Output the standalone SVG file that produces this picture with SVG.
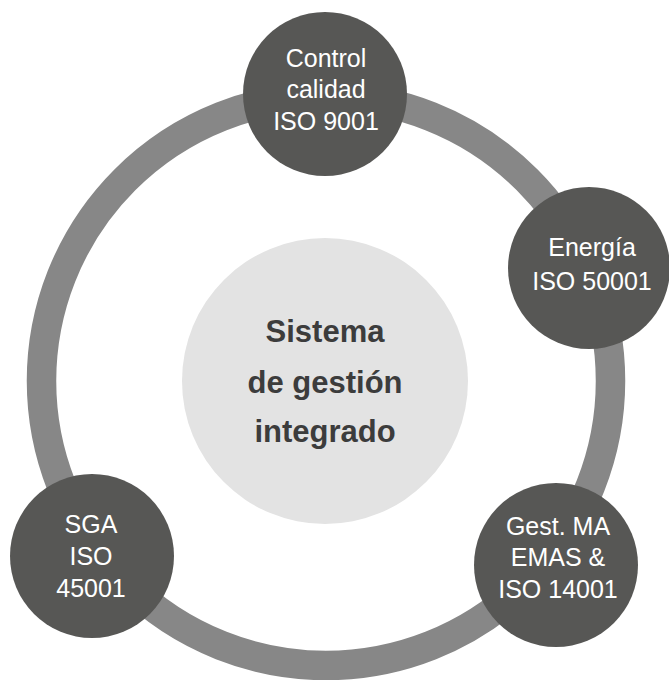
<svg xmlns="http://www.w3.org/2000/svg" width="669" height="680" viewBox="0 0 669 680">
<style>
.node{fill:#575755}
.lbl{font-family:"Liberation Sans",Arial,sans-serif;font-size:25px;fill:#ffffff;text-anchor:middle}
.ctr{font-family:"Liberation Sans",Arial,sans-serif;font-size:31px;font-weight:bold;fill:#3c3c3c;text-anchor:middle}
</style>
<rect width="669" height="680" fill="#ffffff"/>
<g id="connectors">
<circle cx="326" cy="381" r="284.5" fill="none" stroke="#878787" stroke-width="29.5"/>
</g>
<g id="center">
<circle cx="325" cy="381" r="143" fill="#e3e3e3"/>
<text class="ctr" x="325" y="342">Sistema</text>
<text class="ctr" x="325" y="393">de gestión</text>
<text class="ctr" x="325" y="442">integrado</text>
</g>
<g id="node-calidad">
<circle class="node" cx="325" cy="94" r="82"/>
<text class="lbl" x="326" y="67">Control</text>
<text class="lbl" x="326" y="98">calidad</text>
<text class="lbl" x="326" y="130">ISO 9001</text>
</g>
<g id="node-energia">
<circle class="node" cx="589" cy="268" r="81"/>
<text class="lbl" x="592" y="256">Energía</text>
<text class="lbl" x="592" y="290">ISO 50001</text>
</g>
<g id="node-ma">
<circle class="node" cx="556" cy="565" r="82"/>
<text class="lbl" x="558" y="535">Gest. MA</text>
<text class="lbl" x="558" y="566">EMAS &amp;</text>
<text class="lbl" x="558" y="598">ISO 14001</text>
</g>
<g id="node-sga">
<circle class="node" cx="92" cy="556" r="82"/>
<text class="lbl" x="91" y="533">SGA</text>
<text class="lbl" x="91" y="565">ISO</text>
<text class="lbl" x="91" y="597">45001</text>
</g>
</svg>
